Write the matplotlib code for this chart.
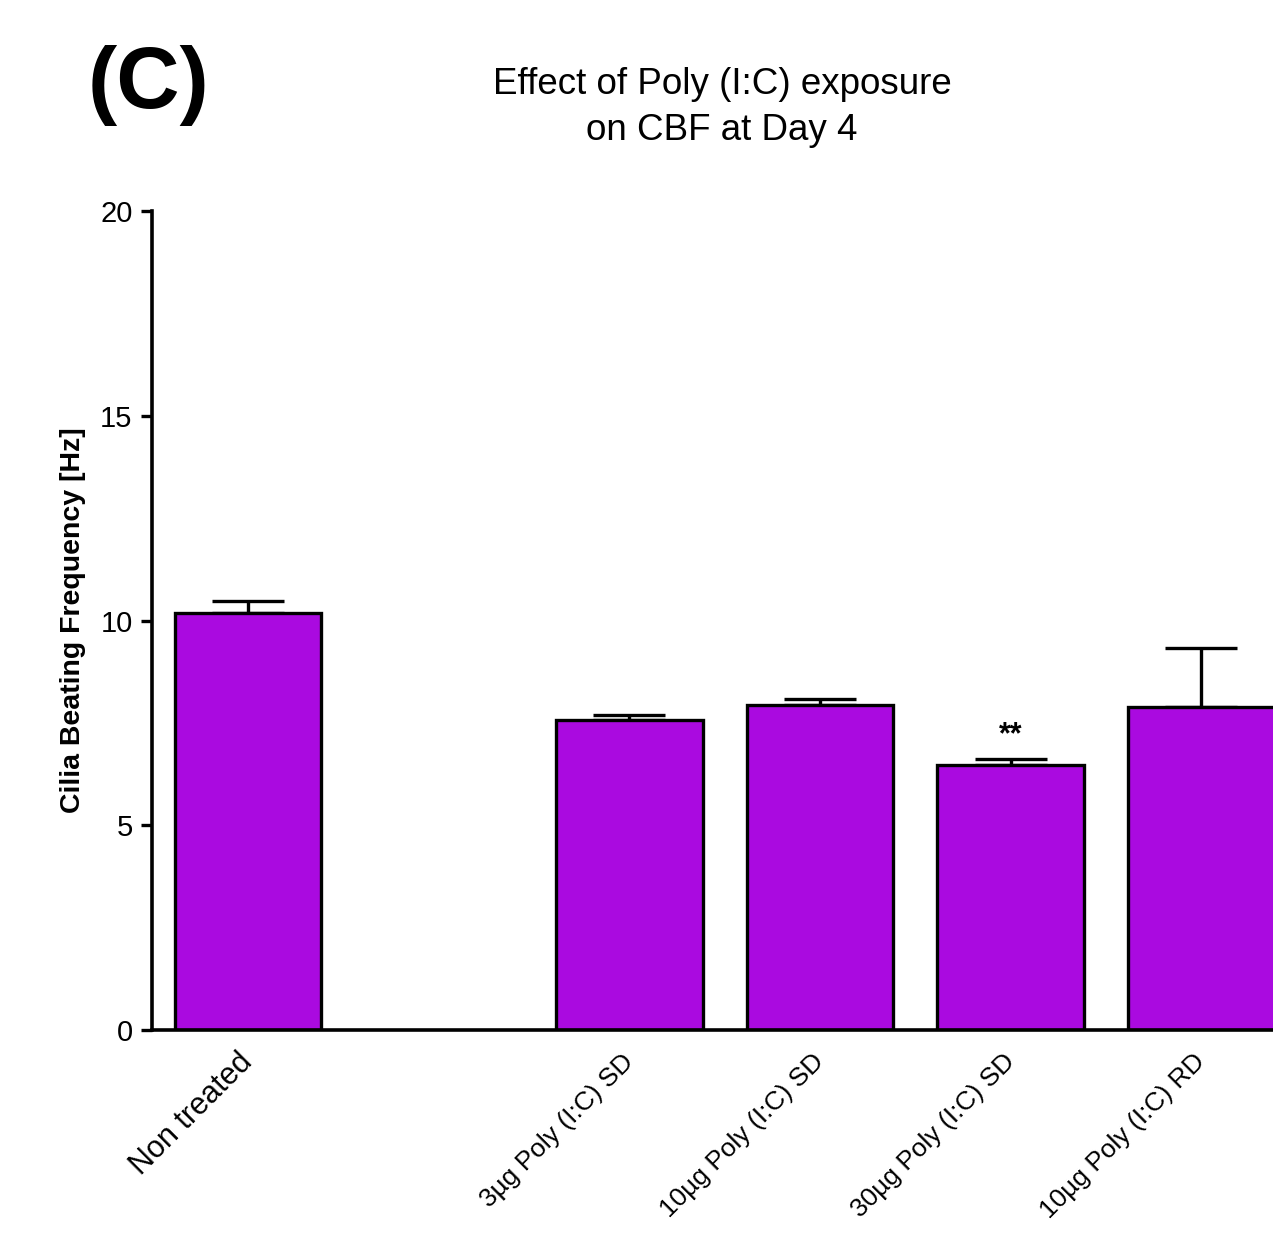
import matplotlib
matplotlib.use("Agg")
import matplotlib.pyplot as plt

categories = ["Non treated", "3\u00b5g Poly (I:C) SD", "10\u00b5g Poly (I:C) SD",
              "30\u00b5g Poly (I:C) SD", "10\u00b5g Poly (I:C) RD"]
positions = [0, 2, 3, 4, 5]
means = [10.18, 7.57, 7.94, 6.47, 7.89]
sem = [0.30, 0.12, 0.14, 0.15, 1.44]
significance = ["", "", "", "**", ""]
yticks = [0, 5, 10, 15, 20]

plt.rcParams['font.family'] = ['Liberation Sans', 'DejaVu Sans']

fig = plt.figure(figsize=(12.73, 12.52), dpi=100)
ax = fig.add_axes([152/1273, 1-1030/1252, 1-152/1273, (1030-211)/1252])

color = '#AA0AE0'
ax.bar(positions, means, width=0.77, color=color, edgecolor='black', linewidth=2.4, zorder=2)
ax.errorbar(positions, means, yerr=[[0]*len(sem), sem], fmt='none', ecolor='black',
            elinewidth=2.4, capsize=26, capthick=2.4, zorder=1)

for p, m, s, t in zip(positions, means, sem, significance):
    if t:
        ax.text(p, m + s + 0.2, t, ha='center', va='bottom', fontsize=22, fontweight='bold')

ax.set_ylim(0, 20)
ax.set_xlim(-0.503, 5.375)
ax.set_yticks(yticks)
ax.set_yticklabels([str(v) for v in yticks], fontsize=21)
ax.set_xticks(positions)
ax.set_xticklabels(categories)
for i, lab in enumerate(ax.get_xticklabels()):
    lab.set_rotation(45)
    lab.set_ha('right')
    lab.set_va('center')
    lab.set_rotation_mode('anchor')
    lab.set_fontsize(22 if i == 0 else 19)
ax.tick_params(axis='x', length=0, pad=20)
ax.tick_params(axis='y', length=8, width=2.4, pad=6)

for s in ['top', 'right']:
    ax.spines[s].set_visible(False)
for s in ['left', 'bottom']:
    ax.spines[s].set_linewidth(2.6)

ax.set_ylabel('Cilia Beating Frequency [Hz]', fontsize=20.5, fontweight='bold', labelpad=10)

fig.text(722/1273, 1-85/1252, 'Effect of Poly (I:C) exposure', ha='center', va='center', fontsize=26.5)
fig.text(722/1273, 1-130/1252, 'on CBF at Day 4', ha='center', va='center', fontsize=26.5)
fig.text(88/1273, 1-86/1252, '(C)', ha='left', va='center', fontsize=63, fontweight='bold')

fig.savefig('out.png', dpi=100)
